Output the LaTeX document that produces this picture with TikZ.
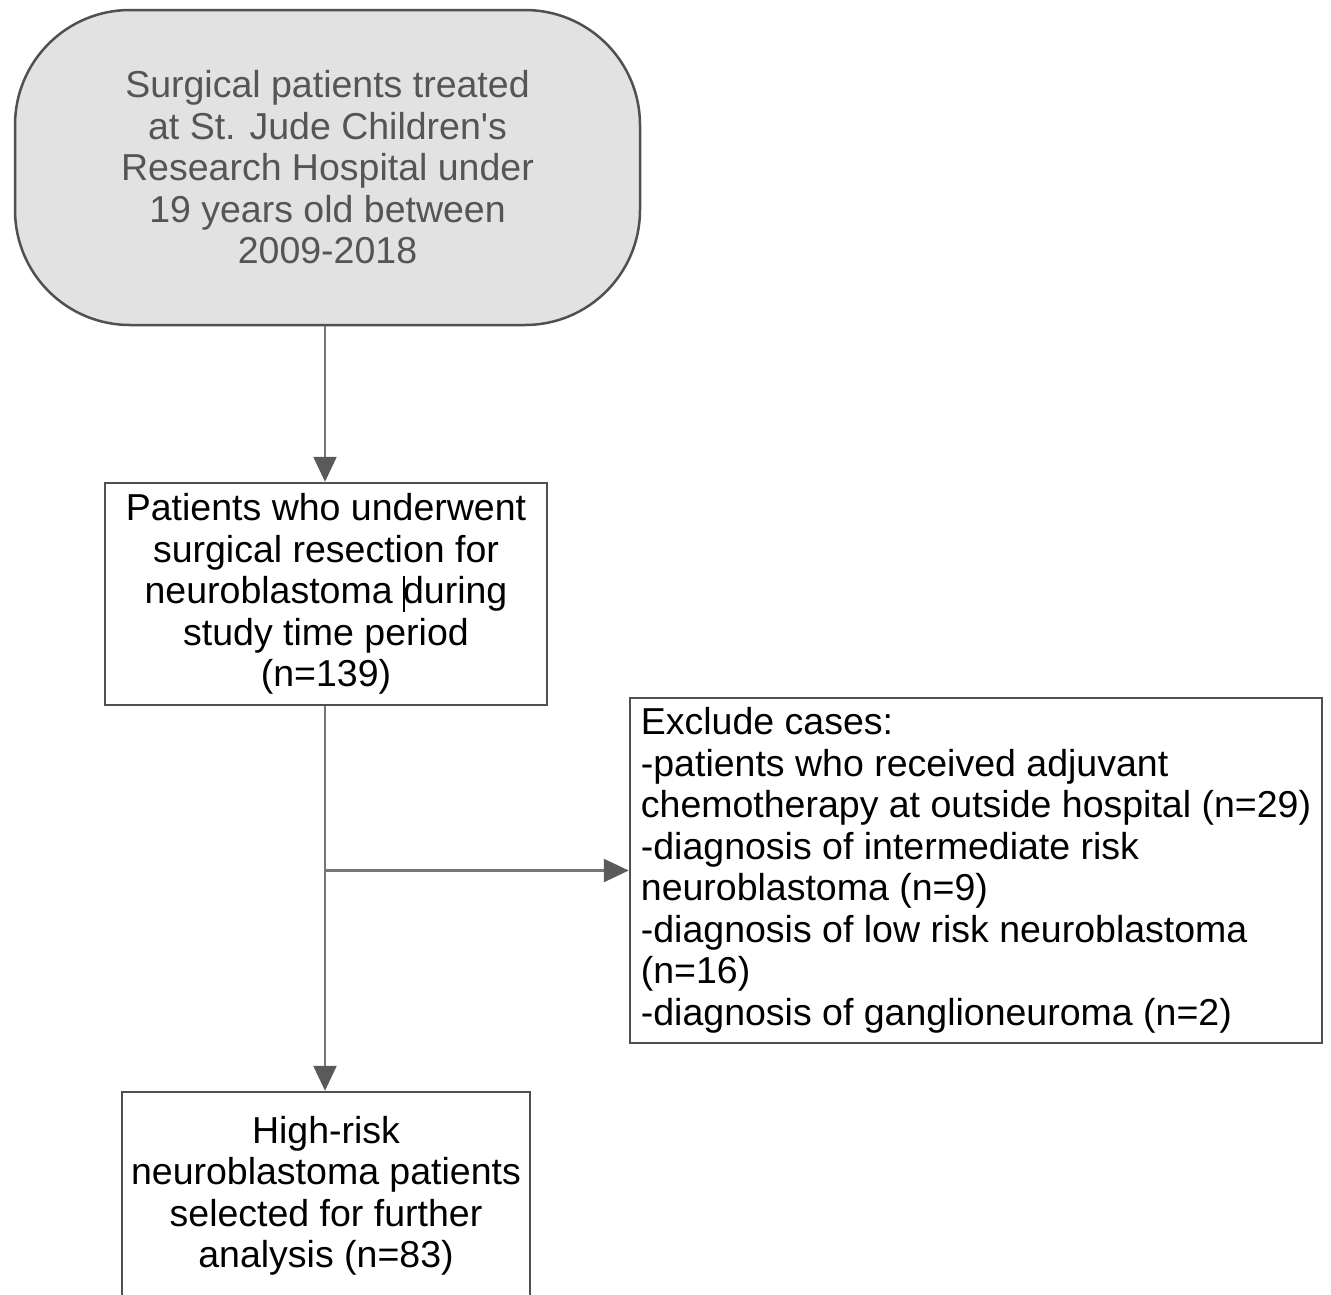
\documentclass[tikz,border=0pt]{standalone}
\usepackage{fontspec}
\setmainfont{Liberation Sans}
\usetikzlibrary{arrows.meta}
\definecolor{boxline}{HTML}{505050}
\definecolor{conline}{HTML}{767676}
\definecolor{tipcol}{HTML}{5A5A5A}
\definecolor{stadfill}{HTML}{E2E2E2}
\definecolor{stadtext}{HTML}{555555}
\tikzset{
  basefont/.style={font=\fontsize{37.5}{41.5}\selectfont},
  stadium/.style={basefont, draw=boxline, line width=2.5pt, fill=stadfill, text=stadtext,
    rounded corners=115pt, minimum width=625pt, minimum height=315pt, align=center, inner sep=0pt},
  flowbox/.style={basefont, draw=boxline, line width=2.5pt, align=center, inner sep=0pt},
  exclbox/.style={basefont, draw=boxline, line width=2.5pt, align=left, inner sep=0pt,
    minimum width=692pt, minimum height=345pt},
  conn/.style={draw=conline, line width=2.5pt},
  arr/.style={conn, -{Triangle[length=25pt, width=23pt, color=tipcol, fill=tipcol]}},
}
\begin{document}
\begin{tikzpicture}[x=1pt, y=-1pt]
\useasboundingbox (0,0) rectangle (1331,1294);
\node[stadium] (start) at (327.5,167.5) {Surgical patients treated\\at St. Jude Children\textquotesingle s\\Research Hospital under\\19 years old between\\2009-2018};
\node[flowbox, minimum width=442pt, minimum height=222pt] (surg) at (326,594) {Patients who underwent\\surgical resection for\\neuroblastoma \rule[-0.22em]{2pt}{0.95em}\kern-2pt during\\study time period\\(n=139)};
\node[exclbox] (excl) at (976,870.5) {Exclude cases:\\-patients who received adjuvant\\chemotherapy at outside hospital (n=29)\\-diagnosis of intermediate risk\\neuroblastoma (n=9)\\-diagnosis of low risk neuroblastoma\\(n=16)\\-diagnosis of ganglioneuroma (n=2)};
\node[flowbox, minimum width=408pt, minimum height=208pt] (high) at (326,1196) {High-risk\\neuroblastoma patients\\selected for further\\analysis (n=83)};
\coordinate (split) at (325,870.5);
\draw[arr] (start.south -| split) -- (surg.north -| split);
\draw[arr] (surg.south -| split) -- (high.north -| split);
\draw[arr] (split) -- (excl.west);
\end{tikzpicture}
\end{document}
